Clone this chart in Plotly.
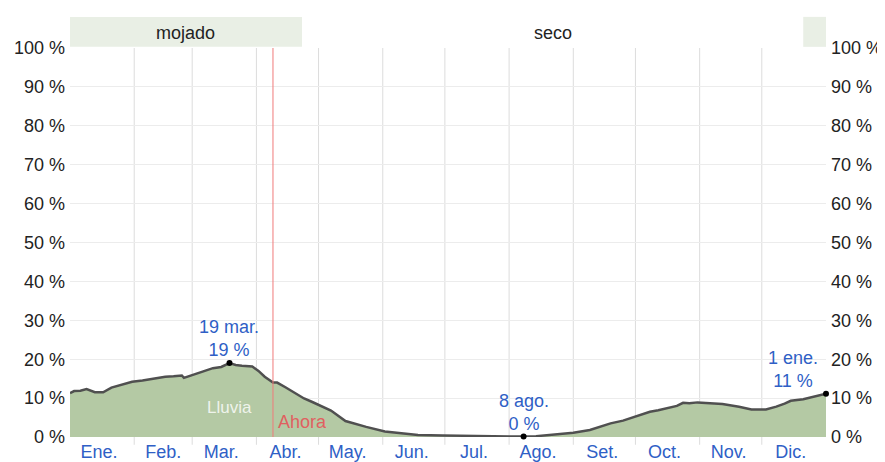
import datetime as dt
import plotly.graph_objects as go

# ---- data (day-of-year offsets from 1 Jan, chance of rain in %) ----
rain_days = [0, 2, 5, 8, 12, 16, 20, 25, 30, 35, 40, 46, 50, 54, 55, 60, 64, 69, 73, 77,
             80, 83, 88, 91, 94, 98, 100, 104, 107, 110, 113, 117, 120, 126, 133, 138,
             143, 152, 162, 168, 180, 190, 200, 210, 219, 225, 232, 237, 243, 251, 256,
             261, 267, 274, 280, 284, 288, 293, 296, 299, 303, 309, 315, 323, 329, 336,
             341, 345, 348, 354, 359, 365]
rain_pct = [11.3, 11.8, 11.9, 12.3, 11.5, 11.5, 12.7, 13.4, 14.2, 14.5, 14.9, 15.5, 15.6,
            15.8, 15.2, 16.2, 16.8, 17.7, 18.0, 19.0, 18.5, 18.3, 18.1, 17.0, 15.5, 14.0,
            14.0, 12.8, 11.9, 10.9, 9.9, 9.0, 8.2, 6.8, 4.1, 3.3, 2.6, 1.4, 0.9, 0.5, 0.4,
            0.3, 0.3, 0.2, 0.1, 0.2, 0.5, 0.7, 1.1, 1.8, 2.6, 3.5, 4.2, 5.4, 6.5, 6.9, 7.4,
            8.0, 8.8, 8.7, 8.9, 8.7, 8.5, 7.8, 7.1, 7.1, 7.8, 8.6, 9.3, 9.7, 10.4, 11.1]

month_labels = ["Ene.", "Feb.", "Mar.", "Abr.", "May.", "Jun.", "Jul.", "Ago.", "Set.",
                "Oct.", "Nov.", "Dic."]
y_ticks = [0, 10, 20, 30, 40, 50, 60, 70, 80, 90, 100]
y_tick_labels = [f"{v} %" for v in y_ticks]

wet_season = ("2023-01-01", "2023-04-23")
wet_season2 = ("2023-12-21", "2024-01-01")
now_date = "2023-04-09"

highlights = [  # (date, value, label, anchor)
    ("2023-03-19", 19.0, "19 mar.<br>19 %", "center"),
    ("2023-08-08", 0.1, "8 ago.<br>0 %", "center"),
    ("2024-01-01", 11.1, "1 ene.<br>11 %", "right"),
]

# ---- build ----
start = dt.date(2023, 1, 1)
xs = [start + dt.timedelta(days=d) for d in rain_days]
mid_months = [dt.date(2023, m, 15) for m in range(1, 13)]
month_starts = [dt.date(2023, m, 1) for m in range(2, 13)]

FONT = "Arial, Liberation Sans, sans-serif"
BLUE = "#2f5fc6"
FS = 18

fig = go.Figure()
fig.add_trace(go.Scatter(
    x=xs, y=rain_pct, mode="lines", fill="tozeroy",
    fillcolor="#b4c9a4", line=dict(color="#505050", width=2.5),
    hoverinfo="skip", showlegend=False))
# invisible trace for right axis
fig.add_trace(go.Scatter(x=[xs[0]], y=[0], yaxis="y2", mode="markers",
                         marker=dict(opacity=0), showlegend=False, hoverinfo="skip"))
fig.add_trace(go.Scatter(
    x=[h[0] for h in highlights], y=[h[1] for h in highlights], mode="markers",
    marker=dict(color="black", size=6), showlegend=False, hoverinfo="skip",
    cliponaxis=False))

shapes = []
for ms in month_starts:
    shapes.append(dict(type="line", xref="x", yref="paper", x0=ms, x1=ms, y0=-0.02, y1=1,
                       line=dict(color="#dcdcdc", width=1), layer="below"))
for a, b in (wet_season, wet_season2):
    shapes.append(dict(type="rect", xref="x", yref="paper", x0=a, x1=b, y0=1.003, y1=1.08,
                       fillcolor="#e9efe5", line=dict(width=0), layer="below"))
shapes.append(dict(type="line", xref="x", yref="paper", x0=now_date, x1=now_date,
                   y0=0, y1=1, line=dict(color="#f07a7a", width=1)))

annotations = [
    dict(x="2023-02-26", y=1.038, xref="x", yref="paper", text="mojado", showarrow=False,
         yanchor="middle", font=dict(size=FS, color="#222", family=FONT)),
    dict(x="2023-08-22", y=1.038, xref="x", yref="paper", text="seco", showarrow=False,
         yanchor="middle", font=dict(size=FS, color="#222", family=FONT)),
    dict(x="2023-03-19", y=7.5, text="Lluvia", showarrow=False, yanchor="middle",
         font=dict(size=17, color="rgba(255,255,255,0.8)", family=FONT)),
    dict(x=now_date, y=3.9, text="Ahora", showarrow=False, xanchor="left", xshift=3,
         yanchor="middle", font=dict(size=FS, color="#e06060", family=FONT)),
]
for d, v, lab, anch in highlights:
    annotations.append(dict(
        x=d, y=v, text=lab, showarrow=False, yanchor="bottom", yshift=1,
        xanchor=anch, xshift=(-6 if anch == "right" else 0), align="center",
        font=dict(size=FS, color=BLUE, family=FONT)))

fig.update_layout(
    width=885, height=462,
    margin=dict(l=62, r=67, t=40, b=33, autoexpand=False),
    paper_bgcolor="white", plot_bgcolor="white",
    font=dict(family=FONT, size=FS, color="#222"),
    shapes=shapes, annotations=annotations,
    xaxis=dict(type="date", range=["2023-01-01", "2024-01-01"],
               tickmode="array", tickvals=mid_months, ticktext=month_labels,
               showgrid=False, zeroline=False, showline=False, ticks="",
               tickfont=dict(color=BLUE, size=FS), ticklabelstandoff=2),
    yaxis=dict(range=[0, 100], tickmode="array", tickvals=y_ticks, ticktext=y_tick_labels,
               showgrid=True, gridcolor="#ececec", zeroline=False, showline=False,
               ticks="", tickfont=dict(size=FS, color="#222"), ticklabelstandoff=4),
    yaxis2=dict(range=[0, 100], overlaying="y", side="right", matches="y",
                tickmode="array", tickvals=y_ticks, ticktext=y_tick_labels, showgrid=False,
                zeroline=False, showline=False, ticks="",
                tickfont=dict(size=FS, color="#222"), ticklabelstandoff=4),
)

fig.write_html("out.html")
